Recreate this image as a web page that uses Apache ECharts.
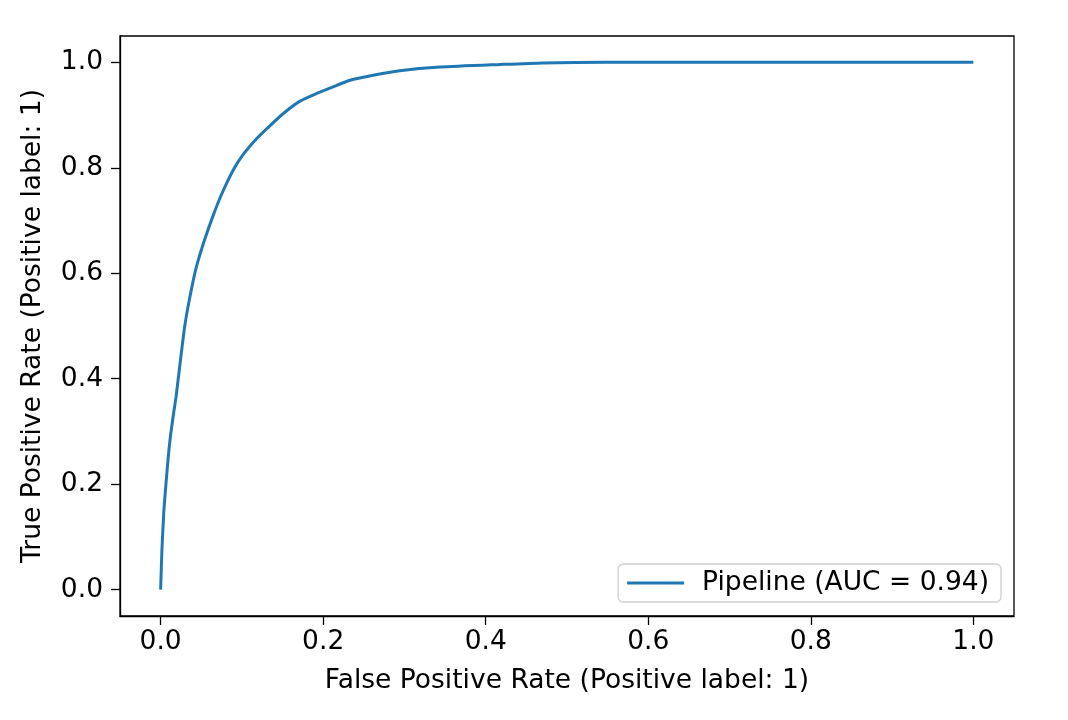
<!DOCTYPE html>
<html>
<head>
<meta charset="utf-8">
<script src="https://cdn.jsdelivr.net/npm/echarts@6/dist/echarts.min.js"></script>
<style>html,body{margin:0;padding:0;background:#fff;}#c{width:1068px;height:720px;}</style>
</head>
<body>
<div id="c"></div>
<script>
const fpr = [0, 0.0016, 0.004, 0.006, 0.009, 0.012, 0.016, 0.019, 0.024, 0.0296, 0.036, 0.044, 0.054, 0.064, 0.0745, 0.089, 0.101, 0.118, 0.134, 0.151, 0.171, 0.192, 0.216, 0.233, 0.26, 0.294, 0.344, 0.418, 0.47, 0.55, 0.7, 0.85, 1.0];
const tpr = [0, 0.076, 0.15, 0.19, 0.245, 0.29, 0.335, 0.366, 0.43, 0.499, 0.555, 0.612, 0.663, 0.707, 0.748, 0.795, 0.824, 0.855, 0.879, 0.903, 0.926, 0.941, 0.956, 0.966, 0.975, 0.984, 0.991, 0.996, 0.999, 1.0, 1.0, 1.0, 1.0];
const tickValues = [0, 0.2, 0.4, 0.6, 0.8, 1.0];
const seriesName = 'Pipeline (AUC = 0.94)';
const xTitle = 'False Positive Rate (Positive label: 1)';
const yTitle = 'True Positive Rate (Positive label: 1)';

const FONT = 'DejaVu Sans';
const FS = 26.5;
const chart = echarts.init(document.getElementById('c'), null, {renderer: 'canvas'});
const axisCommon = {
  type: 'value', min: -0.05, max: 1.05,
  splitLine: {show: false},
  axisLine: {show: true, onZero: false, lineStyle: {color: '#000', width: 1.3}},
  axisTick: {show: true, customValues: tickValues, length: 9, lineStyle: {color: '#000', width: 1.3}},
  nameLocation: 'middle',
  nameTextStyle: {fontFamily: FONT, fontSize: FS, color: '#000'}
};
chart.setOption({
  animation: false,
  backgroundColor: '#fff',
  grid: {left: 120, right: 54, top: 36, bottom: 104, show: true, borderColor: '#000', borderWidth: 1.3},
  xAxis: Object.assign({}, axisCommon, {
    name: xTitle, nameGap: 52,
    axisLabel: {customValues: tickValues, margin: 13, fontFamily: FONT, fontSize: FS, color: '#000', formatter: v => v.toFixed(1)}
  }),
  yAxis: Object.assign({}, axisCommon, {
    name: yTitle, nameGap: 73, nameRotate: 90,
    axisLabel: {customValues: tickValues, margin: 17, fontFamily: FONT, fontSize: FS, color: '#000', formatter: v => v.toFixed(1)}
  }),
  legend: {
    right: 67, top: 564,
    data: [{name: seriesName, icon: 'rect'}],
    itemWidth: 57, itemHeight: 3,
    padding: [3, 12, 3, 9],
    borderColor: '#d0d0d0', borderWidth: 1.3, borderRadius: 5,
    textStyle: {fontFamily: FONT, fontSize: FS, color: '#000', padding: [0, 0, 0, 13], lineHeight: 32}
  },
  series: [{
    name: seriesName, type: 'line',
    data: fpr.map((x, i) => [x, tpr[i]]),
    showSymbol: false, smooth: 0.2,
    itemStyle: {color: '#1f77b4'},
    lineStyle: {color: '#1f77b4', width: 3}
  }]
});
</script>
</body>
</html>
